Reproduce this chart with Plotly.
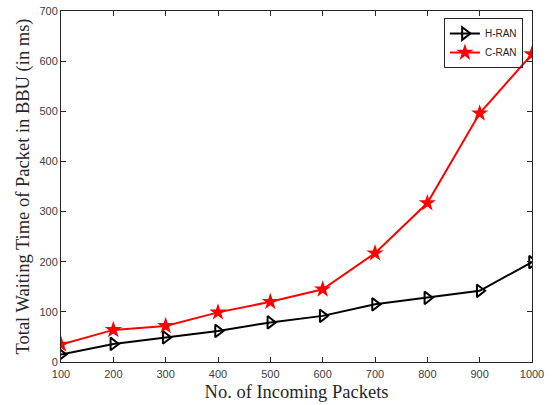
import plotly.graph_objects as go

packets = [100, 200, 300, 400, 500, 600, 700, 800, 900, 1000]
h_ran = [15, 36, 49, 62, 79, 92, 115, 128, 142, 199]
c_ran = [35, 64, 72, 99, 120, 145, 217, 317, 496, 614]
x_ticks = [100, 200, 300, 400, 500, 600, 700, 800, 900, 1000]
y_ticks = [0, 100, 200, 300, 400, 500, 600, 700]

fig = go.Figure()
fig.add_trace(go.Scatter(
    x=packets, y=h_ran, name="H-RAN", mode="lines+markers",
    line=dict(color="black", width=2),
    marker=dict(symbol="triangle-right-open", size=11, color="black", line=dict(width=2)),
))
fig.add_trace(go.Scatter(
    x=packets, y=c_ran, name="C-RAN", mode="lines+markers",
    line=dict(color="#ff0000", width=2),
    marker=dict(symbol="star", size=13, color="#ff0000", line=dict(width=0)),
))

axis_common = dict(
    showline=True, linecolor="#262626", linewidth=1, mirror="ticks",
    ticks="inside", ticklen=5, tickcolor="#262626",
    showgrid=False, zeroline=False,
    tickfont=dict(family="Liberation Sans, Arial", size=11, color="#404040"),
)

fig.update_layout(
    width=557, height=405,
    margin=dict(l=61, r=25, t=11, b=43, autoexpand=False),
    paper_bgcolor="white", plot_bgcolor="white",
    xaxis=dict(range=[100, 1000], tickvals=x_ticks, ticklabelstandoff=2,
               title=dict(text="No. of Incoming Packets", standoff=5,
                          font=dict(family="Liberation Serif, Times New Roman", size=18.5, color="#262626")),
               **axis_common),
    yaxis=dict(range=[0, 700], tickvals=y_ticks,
               title=dict(text="Total Waiting Time of Packet in BBU (in ms)", standoff=4,
                          font=dict(family="Liberation Serif, Times New Roman", size=18.5, color="#262626")),
               **axis_common),
    legend=dict(x=0.813, y=0.98, xanchor="left", yanchor="top",
                bgcolor="rgba(255,255,255,0)", bordercolor="#262626", borderwidth=1,
                font=dict(family="Liberation Sans, Arial", size=10, color="#262626"),
                tracegroupgap=0, itemwidth=30),
    showlegend=True,
)

fig.write_html("out.html", config={"displayModeBar": False},
               post_script="document.body.style.margin='0px';")
